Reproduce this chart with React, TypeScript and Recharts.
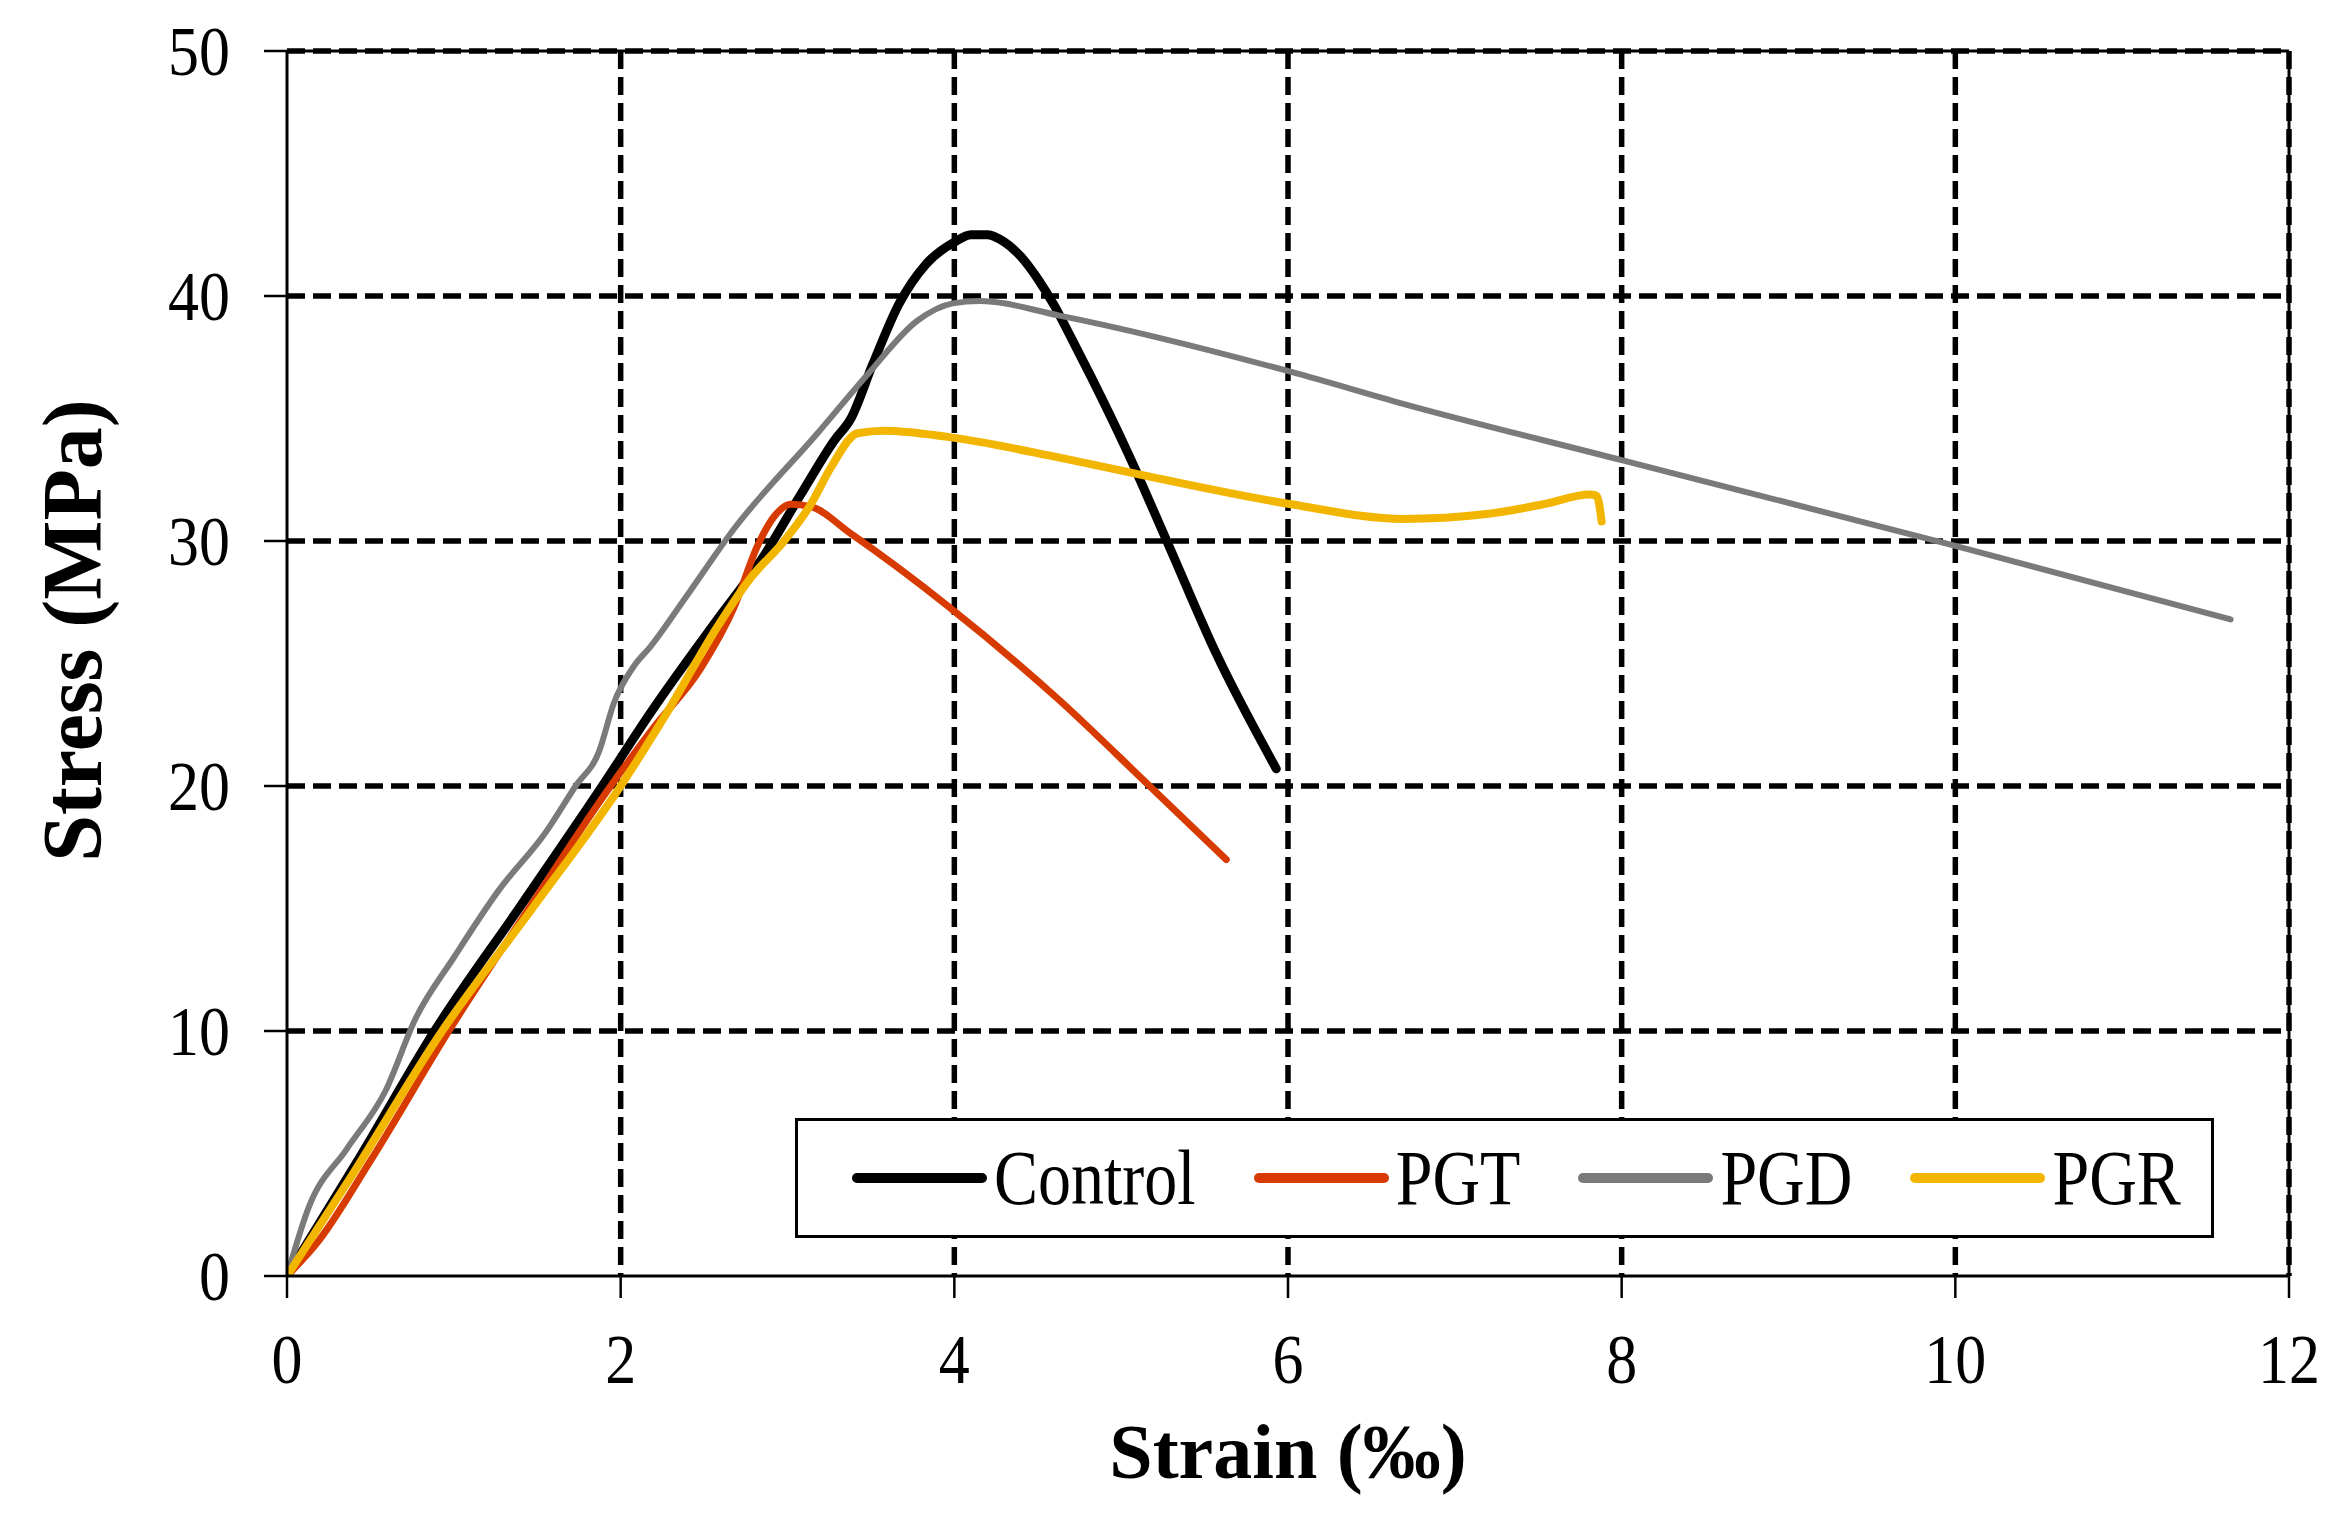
import { LineChart, Line, XAxis, YAxis, CartesianGrid, Legend, ReferenceLine } from 'recharts';

const X_TICKS = [0, 2, 4, 6, 8, 10, 12];
const Y_TICKS = [0, 10, 20, 30, 40, 50];

const CONTROL_STRAIN = [0, 0.45, 0.885, 1.4, 1.89, 2.18, 2.58, 2.84, 3.08, 3.28, 3.38, 3.51, 3.67, 3.83, 4.0, 4.1, 4.2, 4.3, 4.4, 4.5, 4.6, 4.7, 4.82, 5.04, 5.28, 5.57, 5.93];
const CONTROL_STRESS = [0, 5.0, 10, 15.1, 20, 23.0, 26.8, 29.2, 31.9, 34.1, 35.0, 37.2, 39.7, 41.3, 42.2, 42.5, 42.5, 42.2, 41.6, 40.7, 39.6, 38.3, 36.7, 33.6, 29.9, 25.4, 20.7];

const PGT_STRAIN = [0, 0.18, 0.5, 0.97, 1.45, 1.94, 2.2, 2.48, 2.68, 2.82, 2.92, 3.02, 3.14, 3.38, 3.97, 4.63, 5.17, 5.63];
const PGT_STRESS = [0, 1.35, 4.7, 10, 15, 20, 22.4, 24.8, 27.3, 29.8, 31.0, 31.5, 31.4, 30.3, 27.3, 23.5, 20.0, 17.0];

const PGD_STRAIN = [0, 0.13, 0.36, 0.59, 0.77, 1.0, 1.27, 1.55, 1.73, 1.87, 1.96, 2.08, 2.18, 2.38, 2.68, 3.18, 3.48, 3.78, 3.99, 4.15, 4.63, 6.02, 6.69, 8.0, 10.0, 11.65];
const PGD_STRESS = [0, 2.8, 5.2, 7.55, 10.5, 13.0, 15.75, 18.1, 20.0, 21.4, 23.4, 24.9, 25.7, 27.6, 30.5, 34.4, 36.8, 39.0, 39.7, 39.8, 39.2, 36.9, 35.6, 33.3, 29.8, 26.8];

const PGR_STRAIN = [0, 0.37, 0.93, 1.47, 2.0, 2.26, 2.58, 2.78, 2.98, 3.14, 3.26, 3.42, 3.58, 3.96, 4.63, 5.12, 6.02, 6.69, 7.19, 7.53, 7.81, 7.85, 7.88];
const PGR_STRESS = [0, 3.9, 10, 15, 20, 22.8, 26.5, 28.5, 30.0, 31.5, 33.0, 34.4, 34.5, 34.25, 33.4, 32.7, 31.5, 30.9, 31.1, 31.5, 31.9, 31.85, 30.8];

const SERIES = [
  { name: 'Control', strain: CONTROL_STRAIN, stress: CONTROL_STRESS, color: '#000000', width: 9 },
  { name: 'PGT', strain: PGT_STRAIN, stress: PGT_STRESS, color: '#D83B01', width: 7 },
  { name: 'PGD', strain: PGD_STRAIN, stress: PGD_STRESS, color: '#7A7A7A', width: 6 },
  { name: 'PGR', strain: PGR_STRAIN, stress: PGR_STRESS, color: '#F3B600', width: 8 },
];

const FONT = '"Liberation Serif", "Times New Roman", serif';

const toPoints = (xs: number[], ys: number[]) => xs.map((x, i) => ({ strain: x, stress: ys[i] }));

const XTick = ({ x, y, payload }: any) => (
  <text x={x} y={y} textAnchor="middle" dominantBaseline="central" fontFamily={FONT} fontSize={62} fill="#000"
    transform={`translate(${x} ${y}) scale(1 1.12) translate(${-x} ${-y})`}>{payload.value}</text>
);

const YTick = ({ x, y, payload }: any) => (
  <text x={x} y={y} textAnchor="end" dominantBaseline="central" fontFamily={FONT} fontSize={62} fill="#000"
    transform={`translate(${x} ${y}) scale(1 1.12) translate(${-x} ${-y})`}>{payload.value}</text>
);

const XTitle = ({ viewBox }: any) => {
  const cx = viewBox.x + viewBox.width / 2;
  const cy = viewBox.y + 175;
  return (
    <text x={cx} y={cy} textAnchor="middle" dominantBaseline="central" fontFamily={FONT} fontWeight="bold" fontSize={78} fill="#000">
      Strain (‰)
    </text>
  );
};

const YTitle = ({ viewBox }: any) => {
  const cx = 72;
  const cy = viewBox.y + viewBox.height / 2 - 33;
  return (
    <text x={cx} y={cy} textAnchor="middle" dominantBaseline="central" fontFamily={FONT} fontWeight="bold" fontSize={84} fill="#000"
      transform={`rotate(-90 ${cx} ${cy})`}>
      Stress (MPa)
    </text>
  );
};

const LegendBox = () => (
  <div style={{ boxSizing: 'border-box', width: 1419, height: 120, border: '3px solid #000', background: '#fff', display: 'flex', alignItems: 'center', paddingLeft: 54 }}>
    {SERIES.map((s) => (
      <div key={s.name} style={{ display: 'flex', alignItems: 'center', marginRight: 58 }}>
        <div style={{ width: 135, height: 10, borderRadius: 5, background: s.color }} />
        <span style={{ marginLeft: 7, fontFamily: FONT, fontSize: 66, lineHeight: 1, display: 'inline-block', transform: 'scaleY(1.18)', color: '#000' }}>{s.name}</span>
      </div>
    ))}
  </div>
);

export default function App() {
  return (
    <div style={{ position: 'absolute', left: 0, top: 0, width: 2344, height: 1532, background: '#fff' }}>
      <LineChart width={2344} height={1532} margin={{ top: 51, right: 55, bottom: 106, left: 87 }}>
        <CartesianGrid stroke="#000" strokeWidth={5.5} strokeDasharray="18 8" horizontalValues={[10, 20, 30, 40, 50]} verticalValues={[2, 4, 6, 8, 10, 12]} />
        <XAxis type="number" dataKey="strain" domain={[0, 12]} ticks={X_TICKS} allowDataOverflow height={150}
          axisLine={{ stroke: '#000', strokeWidth: 3 }} tickLine={{ stroke: '#000', strokeWidth: 2.5 }} tickSize={22} tickMargin={61}
          tick={<XTick />} label={<XTitle />} />
        <YAxis type="number" domain={[0, 50]} ticks={Y_TICKS} allowDataOverflow width={200}
          axisLine={{ stroke: '#000', strokeWidth: 3 }} tickLine={{ stroke: '#000', strokeWidth: 2.5 }} tickSize={23} tickMargin={34}
          tick={<YTick />} label={<YTitle />} />
        <ReferenceLine y={50} stroke="#000" strokeWidth={3} />
        <ReferenceLine x={12} stroke="#000" strokeWidth={3} />
        {SERIES.map((s) => (
          <Line key={s.name} name={s.name} data={toPoints(s.strain, s.stress)} dataKey="stress" type="monotone"
            stroke={s.color} strokeWidth={s.width} dot={false} activeDot={false} isAnimationActive={false} strokeLinecap="round" strokeLinejoin="round" />
        ))}
        <Legend layout="horizontal" verticalAlign="middle" align="center" content={<LegendBox />}
          wrapperStyle={{ left: 795, top: 1118, width: 1419, height: 120 }} />
      </LineChart>
    </div>
  );
}
